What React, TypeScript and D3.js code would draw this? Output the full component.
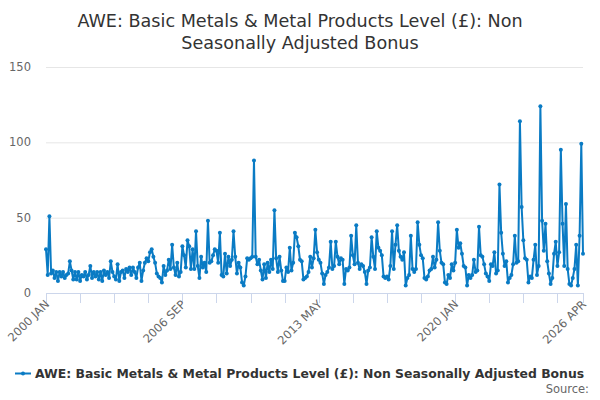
import React, { useEffect, useRef } from "react";
import * as d3 from "d3";

const startYear = 2000;
const monthNames = ["JAN", "FEB", "MAR", "APR", "MAY", "JUN", "JUL", "AUG", "SEP", "OCT", "NOV", "DEC"];

// monthly bonus values, one row per year
const y2000 = [29, 12, 51, 13, 15, 10, 14, 8, 14, 11, 14, 10];
const y2001 = [12, 13, 21, 15, 9, 14, 9, 14, 8, 12, 11, 14];
const y2002 = [9, 12, 18, 10, 14, 11, 14, 9, 14, 8, 15, 12];
const y2003 = [14, 10, 21, 14, 11, 9, 19, 8, 14, 15, 10, 16];
const y2004 = [14, 17, 12, 17, 14, 10, 17, 20, 8, 15, 20, 23];
const y2005 = [21, 27, 29, 24, 20, 13, 11, 10, 7, 18, 12, 15];
const y2006 = [22, 16, 32, 17, 12, 20, 11, 14, 31, 25, 17, 35];
const y2007 = [31, 16, 29, 16, 41, 18, 10, 24, 17, 20, 14, 48];
const y2008 = [20, 21, 25, 29, 28, 20, 40, 12, 11, 26, 13, 24];
const y2009 = [18, 22, 41, 24, 13, 20, 17, 7, 5, 11, 23, 22];
const y2010 = [23, 24, 88, 24, 19, 22, 15, 9, 19, 10, 20, 14];
const y2011 = [22, 16, 55, 23, 14, 24, 15, 8, 8, 17, 14, 30];
const y2012 = [15, 20, 40, 37, 31, 22, 21, 9, 10, 11, 14, 24];
const y2013 = [17, 23, 42, 27, 22, 20, 13, 6, 12, 14, 17, 34];
const y2014 = [16, 18, 34, 24, 19, 23, 22, 6, 16, 15, 17, 38];
const y2015 = [25, 19, 45, 20, 16, 19, 18, 14, 6, 15, 17, 37];
const y2016 = [24, 16, 41, 30, 28, 25, 11, 10, 11, 9, 18, 41];
const y2017 = [16, 32, 45, 28, 24, 22, 27, 5, 10, 12, 38, 16];
const y2018 = [14, 16, 47, 32, 25, 23, 10, 9, 11, 15, 16, 24];
const y2019 = [17, 22, 47, 28, 20, 19, 7, 6, 12, 10, 19, 15];
const y2020 = [20, 42, 30, 33, 26, 18, 17, 5, 12, 10, 12, 22];
const y2021 = [14, 15, 44, 25, 24, 19, 13, 11, 8, 19, 18, 27];
const y2022 = [13, 15, 72, 40, 26, 18, 21, 7, 10, 12, 19, 38];
const y2023 = [20, 21, 114, 57, 35, 23, 22, 7, 11, 10, 22, 32];
const y2024 = [12, 18, 124, 48, 28, 46, 21, 13, 6, 10, 26, 34];
const y2025 = [18, 27, 95, 46, 18, 59, 16, 6, 5, 10, 16, 32];
const y2026 = [5, 38, 99, 26];

const series = [
  ...y2000, ...y2001, ...y2002, ...y2003, ...y2004, ...y2005, ...y2006,
  ...y2007, ...y2008, ...y2009, ...y2010, ...y2011, ...y2012, ...y2013,
  ...y2014, ...y2015, ...y2016, ...y2017, ...y2018, ...y2019, ...y2020,
  ...y2021, ...y2022, ...y2023, ...y2024, ...y2025, ...y2026,
];

const yTicks = [0, 50, 100, 150];
const seriesName = "AWE: Basic Metals & Metal Products Level (£): Non Seasonally Adjusted Bonus";
const titleLines = ["AWE: Basic Metals & Metal Products Level (£): Non", "Seasonally Adjusted Bonus"];

const monthLabel = (i: number) => `${startYear + Math.floor(i / 12)} ${monthNames[i % 12]}`;

const App: React.FC = () => {
  const svgRef = useRef<SVGSVGElement>(null);

  useEffect(() => {
    if (!svgRef.current) return;
    d3.select(svgRef.current).selectAll("*").remove();

    const width = 600;
    const height = 400;
    const margin = { top: 67, right: 17, bottom: 107, left: 46 };
    const color = "#0a7bc4";
    const font = "'DejaVu Sans', sans-serif";

    const svg = d3.select(svgRef.current)
      .attr("viewBox", `0 0 ${width} ${height}`)
      .attr("width", width)
      .attr("height", height)
      .style("font-family", font);

    svg.append("rect").attr("width", width).attr("height", height).attr("fill", "#fff");

    const n = series.length;
    const x = d3.scaleLinear().domain([0, n - 1]).range([margin.left, width - margin.right]);
    const y = d3.scaleLinear().domain([0, 150]).range([height - margin.bottom, margin.top]);

    // title
    svg.append("text")
      .attr("x", width / 2)
      .attr("text-anchor", "middle")
      .attr("fill", "#333")
      .attr("font-size", 17.6)
      .selectAll("tspan")
      .data(titleLines)
      .enter().append("tspan")
      .attr("x", width / 2)
      .attr("y", (_d, i) => 27 + i * 22)
      .text(d => d);

    // grid + y labels
    svg.append("g")
      .selectAll("line")
      .data(yTicks.filter(t => t > 0))
      .enter().append("line")
      .attr("x1", margin.left)
      .attr("x2", width - margin.right)
      .attr("y1", d => y(d) + 0.5)
      .attr("y2", d => y(d) + 0.5)
      .attr("stroke", "#e6e6e6");

    svg.append("g")
      .selectAll("text")
      .data(yTicks)
      .enter().append("text")
      .attr("x", 31)
      .attr("y", d => y(d) + 4)
      .attr("text-anchor", "end")
      .attr("font-size", 11.5)
      .attr("fill", "#666")
      .text(d => d);

    // x axis
    const tickIdx = d3.range(0, n, 20).concat([n - 1]);
    const labelIdx = [0, 80, 160, 240, n - 1];
    const xAxis = svg.append("g");
    xAxis.append("line")
      .attr("x1", margin.left)
      .attr("x2", width - margin.right)
      .attr("y1", y(0) + 0.5)
      .attr("y2", y(0) + 0.5)
      .attr("stroke", "#ccd6eb");
    xAxis.selectAll(".tick")
      .data(tickIdx)
      .enter().append("line")
      .attr("x1", d => Math.round(x(d)) + 0.5)
      .attr("x2", d => Math.round(x(d)) + 0.5)
      .attr("y1", y(0))
      .attr("y2", y(0) + 10)
      .attr("stroke", "#ccd6eb");
    xAxis.selectAll(".lbl")
      .data(labelIdx)
      .enter().append("text")
      .attr("transform", d => `translate(${x(d) + 4},${y(0) + 12}) rotate(-45)`)
      .attr("text-anchor", "end")
      .attr("font-size", 11.5)
      .attr("fill", "#666")
      .text(d => monthLabel(d));

    // line + markers
    const line = d3.line<number>()
      .x((_d, i) => x(i))
      .y(d => y(d));

    svg.append("path")
      .datum(series)
      .attr("d", line)
      .attr("fill", "none")
      .attr("stroke", color)
      .attr("stroke-width", 2)
      .attr("stroke-linejoin", "round");

    svg.append("g")
      .selectAll("circle")
      .data(series)
      .enter().append("circle")
      .attr("cx", (_d, i) => x(i))
      .attr("cy", d => y(d))
      .attr("r", 2)
      .attr("fill", color);

    // legend
    const legend = svg.append("g").attr("transform", "translate(0,373)");
    legend.append("line")
      .attr("x1", 15).attr("x2", 31)
      .attr("y1", 0.5).attr("y2", 0.5)
      .attr("stroke", color).attr("stroke-width", 2);
    legend.append("circle").attr("cx", 23).attr("cy", 0.5).attr("r", 2).attr("fill", color);
    legend.append("text")
      .attr("x", 35)
      .attr("y", 4.5)
      .attr("font-size", 12.4)
      .attr("font-weight", "bold")
      .attr("fill", "#333")
      .text(seriesName);

    svg.append("text")
      .attr("x", 589)
      .attr("y", 393)
      .attr("text-anchor", "end")
      .attr("font-size", 11.5)
      .attr("fill", "#666")
      .text("Source:");
  }, []);

  return (
    <svg ref={svgRef} width={600} height={400} style={{ position: "absolute", left: 0, top: 0 }} />
  );
};

export default App;
